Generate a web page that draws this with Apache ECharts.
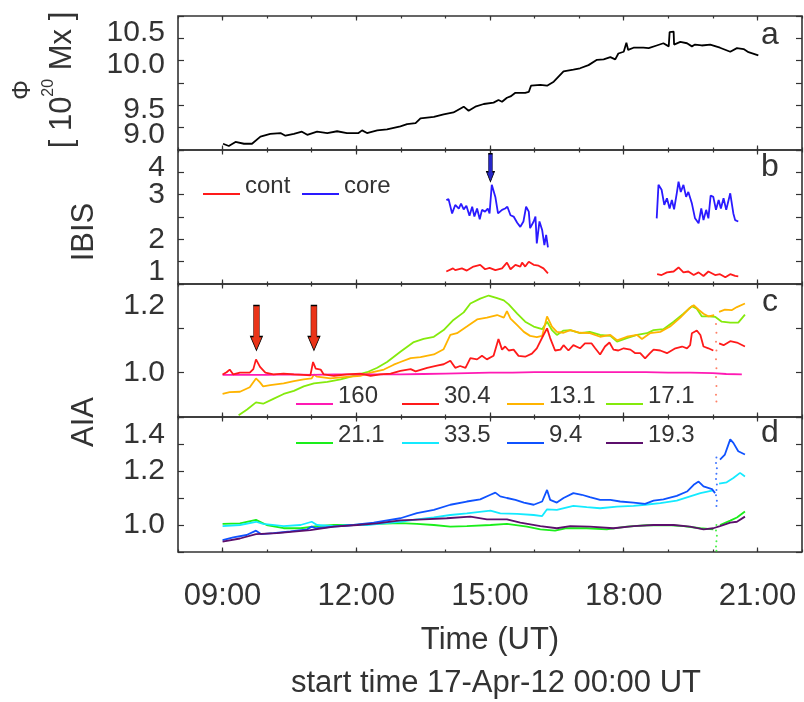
<!DOCTYPE html>
<html>
<head>
<meta charset="UTF-8">
<title>Flux, IBIS and AIA light curves 17-Apr-12</title>
<script src="https://cdn.jsdelivr.net/npm/echarts@6/dist/echarts.min.js"></script>
<style>
  html, body { margin: 0; padding: 0; background: #fff; }
  #main { width: 804px; height: 702px; }
</style>
</head>
<body>
<div id="main"></div>
<script>
// time is in hours UT, start time 17-Apr-12 00:00 UT
var hourTicks = [9, 12, 15, 18, 21];

// panel a: magnetic flux [10^20 Mx]
var phi = [[9.01,9.07],[9.14,9.045],[9.29,9.09],[9.48,9.07],[9.66,9.07],[9.85,9.15],[10.07,9.18],[10.30,9.19],
  [10.41,9.16],[10.60,9.18],[10.78,9.205],[10.90,9.17],[11.12,9.205],[11.35,9.19],[11.57,9.21],[11.79,9.19],
  [12.05,9.19],[12.13,9.22],[12.24,9.19],[12.47,9.22],[12.69,9.23],[12.99,9.265],[13.14,9.29],[13.33,9.30],
  [13.44,9.355],[13.74,9.37],[13.96,9.40],[14.18,9.42],[14.41,9.485],[14.52,9.44],[14.67,9.485],[14.86,9.515],
  [15.08,9.53],[15.19,9.56],[15.27,9.54],[15.38,9.585],[15.46,9.60],[15.57,9.64],[15.79,9.64],[15.87,9.65],
  [15.92,9.72],[16.13,9.73],[16.28,9.72],[16.43,9.765],[16.65,9.88],[16.87,9.90],[17.02,9.915],[17.21,9.95],
  [17.40,10.01],[17.55,10.015],[17.70,10.04],[17.81,10.015],[17.88,10.08],[18.00,10.10],[18.06,10.20],[18.10,10.12],
  [18.22,10.145],[18.44,10.145],[18.56,10.14],[18.74,10.17],[18.89,10.195],[19.01,10.16],[19.03,10.32],[19.12,10.325],
  [19.13,10.18],[19.27,10.21],[19.42,10.195],[19.53,10.16],[19.60,10.18],[19.75,10.17],[19.94,10.18],[20.16,10.145],
  [20.39,10.10],[20.54,10.14],[20.69,10.13],[20.80,10.095],[21.02,10.06]];

// panel b: IBIS
var core = [[14.02,2.88],[14.07,2.90],[14.15,2.58],[14.22,2.77],[14.30,2.69],[14.35,2.80],[14.41,2.67],[14.47,2.75],
  [14.54,2.53],[14.60,2.73],[14.65,2.51],[14.71,2.69],[14.77,2.45],[14.82,2.66],[14.89,2.62],[14.95,2.69],[14.99,2.58],
  [15.04,3.22],[15.12,2.95],[15.18,2.58],[15.27,2.66],[15.34,2.69],[15.39,2.73],[15.46,2.54],[15.53,2.51],[15.61,2.37],
  [15.68,2.28],[15.75,2.40],[15.81,2.73],[15.87,2.62],[15.90,2.25],[15.98,2.40],[16.02,2.51],[16.05,1.91],[16.11,2.40],
  [16.17,2.21],[16.22,1.87],[16.26,2.10],[16.30,1.82],[17.5,null],
  [18.74,2.47],[18.78,3.22],[18.85,3.11],[18.91,2.77],[18.97,2.92],[19.03,2.69],[19.08,2.88],[19.13,2.67],[19.19,3.03],
  [19.23,3.29],[19.28,3.06],[19.34,3.22],[19.40,2.95],[19.45,3.06],[19.53,2.80],[19.60,2.47],[19.68,2.36],[19.74,2.69],
  [19.79,2.43],[19.85,2.66],[19.90,2.47],[19.95,2.98],[20.01,2.95],[20.07,2.66],[20.13,2.88],[20.18,2.69],[20.24,2.92],
  [20.30,2.66],[20.39,3.03],[20.46,2.58],[20.50,2.43],[20.57,2.40]];
var cont = [[14.02,1.28],[14.17,1.35],[14.22,1.31],[14.37,1.35],[14.48,1.30],[14.63,1.39],[14.78,1.43],[14.89,1.33],
  [14.99,1.36],[15.12,1.31],[15.27,1.35],[15.38,1.48],[15.46,1.33],[15.57,1.43],[15.68,1.39],[15.72,1.48],[15.79,1.39],
  [15.87,1.50],[15.98,1.43],[16.09,1.41],[16.20,1.35],[16.30,1.24],[17.5,null],
  [18.75,1.22],[18.85,1.20],[18.97,1.26],[19.12,1.28],[19.23,1.37],[19.34,1.26],[19.45,1.28],[19.57,1.20],[19.68,1.26],
  [19.79,1.18],[19.90,1.28],[20.05,1.20],[20.16,1.22],[20.28,1.15],[20.39,1.22],[20.50,1.18],[20.57,1.17]];

// panel c: AIA 160, 30.4, 13.1, 17.1 nm
var aia160 = [[9.0,0.995],[9.5,0.995],[10.0,0.995],[10.5,0.996],[11.0,0.995],[11.5,0.996],[12.0,0.996],[12.5,0.996],
  [13.0,0.996],[13.5,0.997],[14.0,0.998],[14.5,0.999],[15.0,1.0],[15.5,1.0],[16.0,1.001],[16.5,1.001],[17.0,1.001],
  [17.5,1.001],[18.0,1.001],[18.5,1.001],[19.0,1.0],[19.5,1.0],[20.0,0.999],[20.3,0.997],[20.65,0.996]];
var aia304 = [[9.0,0.996],[9.09,1.001],[9.16,1.007],[9.24,0.996],[9.39,1.0],[9.61,1.0],[9.69,1.008],[9.75,1.03],
  [9.84,1.013],[9.96,1.0],[10.14,0.996],[10.37,0.998],[10.60,0.996],[10.82,0.995],[10.97,0.994],[11.03,1.024],
  [11.09,1.009],[11.20,1.007],[11.27,0.996],[11.50,0.993],[11.79,0.996],[12.09,0.998],[12.32,0.993],[12.54,0.996],
  [12.77,0.998],[12.99,1.004],[13.22,1.008],[13.33,1.003],[13.59,1.011],[13.81,1.016],[13.96,1.019],[14.11,1.027],
  [14.22,1.011],[14.33,1.015],[14.45,1.011],[14.56,1.033],[14.71,1.030],[14.82,1.038],[14.93,1.030],[15.08,1.038],
  [15.19,1.076],[15.27,1.052],[15.34,1.059],[15.42,1.050],[15.53,1.052],[15.64,1.038],[15.79,1.036],[15.94,1.043],
  [16.05,1.055],[16.20,1.085],[16.28,1.100],[16.35,1.078],[16.46,1.050],[16.58,1.052],[16.65,1.062],[16.76,1.050],
  [16.87,1.062],[17.02,1.055],[17.13,1.066],[17.28,1.066],[17.36,1.055],[17.47,1.041],[17.58,1.059],[17.68,1.068],
  [17.77,1.052],[17.88,1.050],[18.00,1.055],[18.15,1.052],[18.26,1.044],[18.37,1.044],[18.48,1.032],[18.59,1.044],
  [18.67,1.052],[18.82,1.050],[18.97,1.044],[19.16,1.055],[19.31,1.059],[19.42,1.055],[19.49,1.062],[19.53,1.089],
  [19.64,1.095],[19.72,1.085],[19.79,1.059],[19.90,1.055],[20.01,1.050],[20.07,null],
  [20.14,1.066],[20.24,1.062],[20.39,1.071],[20.54,1.068],[20.72,1.059]];
var aia131 = [[9.0,0.952],[9.16,0.956],[9.39,0.957],[9.61,0.967],[9.75,0.987],[9.84,0.978],[9.91,0.969],[10.07,0.972],
  [10.37,0.976],[10.60,0.981],[10.82,0.985],[11.00,0.987],[11.05,0.996],[11.12,0.991],[11.42,0.987],[11.72,0.990],
  [12.09,0.993],[12.32,1.0],[12.62,1.007],[12.84,1.018],[12.99,1.024],[13.22,1.033],[13.44,1.035],[13.74,1.041],
  [13.96,1.053],[14.11,1.085],[14.26,1.089],[14.48,1.104],[14.71,1.120],[14.93,1.124],[15.16,1.130],[15.31,1.124],
  [15.38,1.139],[15.46,1.122],[15.61,1.107],[15.76,1.092],[15.90,1.083],[16.05,1.080],[16.17,1.083],[16.28,1.127],
  [16.39,1.104],[16.50,1.092],[16.65,1.090],[16.80,1.096],[17.02,1.090],[17.24,1.089],[17.47,1.081],[17.70,1.085],
  [17.85,1.073],[18.07,1.081],[18.30,1.085],[18.41,1.076],[18.59,1.089],[18.82,1.092],[19.04,1.104],[19.27,1.124],
  [19.46,1.144],[19.57,1.152],[19.68,1.142],[19.79,1.133],[19.90,1.127],[20.03,1.130],[20.08,null],
  [20.14,1.137],[20.27,1.142],[20.42,1.141],[20.54,1.148],[20.72,1.156]];
var aia171 = [[9.36,0.904],[9.55,0.917],[9.75,0.933],[9.91,0.930],[10.14,0.941],[10.37,0.952],[10.60,0.959],
  [10.82,0.969],[11.05,0.976],[11.35,0.979],[11.65,0.985],[11.94,0.993],[12.24,1.001],[12.47,1.011],[12.69,1.024],
  [12.99,1.047],[13.29,1.069],[13.51,1.076],[13.74,1.081],[13.96,1.096],[14.18,1.119],[14.41,1.136],[14.56,1.156],
  [14.78,1.167],[14.97,1.174],[15.16,1.168],[15.31,1.163],[15.42,1.154],[15.61,1.133],[15.79,1.115],[15.98,1.104],
  [16.17,1.098],[16.28,1.115],[16.39,1.096],[16.50,1.085],[16.65,1.095],[16.80,1.096],[17.02,1.089],[17.24,1.092],
  [17.47,1.085],[17.70,1.083],[17.85,1.070],[18.07,1.078],[18.30,1.085],[18.52,1.089],[18.67,1.096],[18.89,1.098],
  [19.12,1.115],[19.34,1.133],[19.53,1.150],[19.64,1.144],[19.75,1.127],[19.90,1.127],[20.05,1.126],[20.20,1.115],
  [20.39,1.113],[20.57,1.113],[20.72,1.131]];

// panel d: AIA 21.1, 33.5, 9.4, 19.3 nm
var aia211 = [[9.0,1.004],[9.39,1.006],[9.75,1.019],[9.99,1.0],[10.37,0.988],[10.75,0.988],[11.12,0.996],[11.50,1.0],
  [11.94,1.0],[12.47,1.004],[12.99,1.007],[13.36,1.004],[13.74,1.0],[14.11,0.994],[14.48,0.996],[15.01,1.0],
  [15.38,1.004],[15.83,0.994],[16.13,0.984],[16.46,0.979],[16.72,0.988],[17.17,0.988],[17.62,0.984],[18.07,0.994],
  [18.52,0.999],[18.97,1.0],[19.34,0.996],[19.72,0.988],[20.01,0.984],[20.08,null],
  [20.16,1.0],[20.39,1.016],[20.54,1.028],[20.72,1.050]];
var aia335 = [[9.0,0.996],[9.39,1.0],[9.75,1.012],[9.91,1.004],[10.37,0.996],[10.75,1.0],[11.00,1.012],[11.12,1.0],
  [11.50,0.996],[11.87,1.0],[12.24,1.0],[12.62,1.006],[12.99,1.012],[13.36,1.021],[13.74,1.028],[14.11,1.037],
  [14.48,1.043],[15.01,1.053],[15.23,1.043],[15.61,1.041],[15.98,1.037],[16.17,1.033],[16.28,1.058],[16.50,1.056],
  [16.87,1.071],[17.17,1.066],[17.47,1.062],[17.85,1.068],[18.22,1.071],[18.48,1.075],[18.82,1.081],[19.19,1.090],
  [19.49,1.106],[19.72,1.118],[20.01,1.128],[20.08,null],
  [20.14,1.153],[20.31,1.158],[20.46,1.174],[20.61,1.193],[20.72,1.180]];
var aia94 = [[9.0,0.944],[9.24,0.954],[9.54,0.963],[9.75,0.979],[9.87,0.966],[10.14,0.970],[10.52,0.976],[10.90,0.984],
  [11.00,0.994],[11.09,0.988],[11.50,0.994],[11.94,1.0],[12.39,1.009],[12.99,1.025],[13.36,1.044],[13.74,1.056],
  [14.11,1.075],[14.48,1.087],[14.78,1.095],[15.01,1.112],[15.12,1.120],[15.23,1.106],[15.38,1.100],[15.57,1.093],
  [15.76,1.083],[15.98,1.075],[16.17,1.087],[16.28,1.130],[16.35,1.093],[16.50,1.083],[16.65,1.100],[16.87,1.118],
  [17.06,1.112],[17.24,1.103],[17.47,1.093],[17.70,1.093],[17.92,1.087],[18.22,1.083],[18.48,1.078],[18.67,1.090],
  [18.89,1.095],[19.19,1.108],[19.42,1.124],[19.57,1.149],[19.68,1.161],[19.79,1.143],[19.98,1.133],[20.05,1.118],
  [20.08,null],[20.16,1.242],[20.27,1.261],[20.39,1.317],[20.46,1.304],[20.57,1.273],[20.72,1.261]];
var aia193 = [[9.0,0.938],[9.39,0.950],[9.75,0.966],[10.22,0.970],[10.97,0.981],[11.50,0.994],[12.02,1.0],[12.47,1.006],
  [12.99,1.017],[13.51,1.021],[14.03,1.025],[14.56,1.031],[14.93,1.021],[15.38,1.021],[15.68,1.009],[16.13,0.996],
  [16.50,0.988],[16.80,0.996],[17.24,0.994],[17.77,0.988],[18.22,0.996],[18.67,1.0],[19.12,1.0],[19.49,0.994],
  [19.79,0.984],[20.01,0.988],[20.16,0.996],[20.39,1.009],[20.54,1.012],[20.72,1.031]];

// scattered samples in the data gap near 20:05 UT
var gapC = [[20.07,1.11],[20.08,1.09],[20.07,1.07],[20.08,1.05],[20.07,1.03],[20.08,1.01],[20.07,0.99],[20.08,0.97],[20.07,0.95],[20.08,0.935]];
var gapD94 = [[20.08,1.25],[20.07,1.23],[20.09,1.21],[20.08,1.19],[20.07,1.17],[20.09,1.15],[20.08,1.13],[20.07,1.11],[20.09,1.09],[20.08,1.07]];
var gapD211 = [[20.08,1.0],[20.07,0.98],[20.09,0.96],[20.08,0.94],[20.07,0.92],[20.08,0.905]];

// events marked with arrows [time, value at arrow tip]
var aiaEvents = [[9.76, 1.05], [11.05, 1.05]];
var ibisEvent = [[15.01, 3.29]];

var FONT = 'Liberation Sans';
var INK = '#333';
var chart = echarts.init(document.getElementById('main'));

var panels = [
  {top: 16, height: 134, min: 9.0, max: 10.5, interval: 0.25, labels: [[9.17,'9.0'],[9.45,'9.5'],[9.95,'10.0'],[10.31,'10.5']]},
  {top: 150, height: 134, min: 1, max: 4, interval: 0.5, labels: [[1.27,'1'],[2,'2'],[3,'3'],[3.6,'4']]},
  {top: 284, height: 133, min: 0.9, max: 1.2, interval: 0.1, labels: [[1.0,'1.0'],[1.152,'1.2']]},
  {top: 417, height: 135, min: 0.9, max: 1.4, interval: 0.1, labels: [[1.0,'1.0'],[1.2,'1.2'],[1.335,'1.4']]}
];

var grids = [], xAxes = [], yAxes = [];
function tickStyle(len) {
  return {inside: true, length: len, lineStyle: {color: INK, width: 1.2}};
}
function labelAxis(i, p, labels, ticks) {
  return {gridIndex: i, type: 'value', position: 'left', min: p.min, max: p.max, interval: p.interval,
    axisLine: {show: false}, axisTick: ticks ? tickStyle(6) : {show: false}, splitLine: {show: false},
    axisLabel: {customValues: labels.map(function (l) { return l[0]; }), margin: 13, fontSize: 30,
      fontFamily: FONT, color: INK,
      formatter: function (v) {
        for (var k = 0; k < labels.length; k++) {
          if (Math.abs(labels[k][0] - v) < 1e-6) return labels[k][1];
        }
        return '';
      }}};
}
panels.forEach(function (p, i) {
  grids.push({left: 178, width: 624, top: p.top, height: p.height, show: true,
    borderColor: INK, borderWidth: 1.6, backgroundColor: 'transparent'});
  ['bottom', 'top'].forEach(function (pos) {
    // hourly minor ticks
    xAxes.push({gridIndex: i, type: 'value', position: pos, min: 8, max: 22, interval: 1,
      axisLine: {show: false}, axisTick: tickStyle(2.5), axisLabel: {show: false}, splitLine: {show: false}});
    // 3-hourly major ticks
    var lab = (pos === 'bottom' && i === 3) ? {
      customValues: hourTicks, margin: 29, fontSize: 31, fontFamily: FONT, color: INK,
      formatter: function (v) { return (v < 10 ? '0' : '') + v + ':00'; }
    } : {show: false};
    var tk = tickStyle(4.5);
    tk.customValues = hourTicks;
    xAxes.push({gridIndex: i, type: 'value', position: pos, min: 8, max: 22, interval: 1,
      axisLine: {show: false}, axisTick: tk, axisLabel: lab, splitLine: {show: false}});
  });
  // closely spaced labels are split over two left axes so none get hidden
  yAxes.push(labelAxis(i, p, p.labels.filter(function (l, k) { return k % 2 === 0; }), true));
  yAxes.push(labelAxis(i, p, p.labels.filter(function (l, k) { return k % 2 === 1; }), false));
  yAxes.push({gridIndex: i, type: 'value', position: 'right', min: p.min, max: p.max, interval: p.interval,
    axisLine: {show: false}, axisTick: tickStyle(6), axisLabel: {show: false}, splitLine: {show: false}});
});

function line(name, panel, data, color, extra) {
  var s = {name: name, type: 'line', xAxisIndex: panel * 4, yAxisIndex: panel * 3, data: data,
    showSymbol: false, symbol: 'none', connectNulls: false, animation: false, silent: true,
    color: color, lineStyle: {color: color, width: 1.8}, itemStyle: {color: color}};
  if (extra) s.markPoint = extra;
  return s;
}
function dots(panel, data, color) {
  return {type: 'scatter', xAxisIndex: panel * 4, yAxisIndex: panel * 3, data: data, symbolSize: 2,
    itemStyle: {color: color}, animation: false, silent: true};
}
function arrows(coords, path, size, fill) {
  return {symbol: path, symbolSize: size, symbolOffset: [0, '-50%'], silent: true, animation: false,
    itemStyle: {color: fill, borderColor: '#000', borderWidth: 0.8}, label: {show: false},
    data: coords.map(function (c) { return {coord: c}; })};
}

var redArrow = 'path://M3,0L9,0L9,31L12,31L6,45L0,31L3,31Z';
var blueArrow = 'path://M2,0L6,0L6,18L8,18L4,28L0,18L2,18Z';

var colors = {cont: '#ff1a1a', core: '#2a1aff', '160': '#ff1ab4', '30.4': '#ff1a1a', '13.1': '#ffb400',
  '17.1': '#84ea0c', '21.1': '#1aee1a', '33.5': '#14eaff', '9.4': '#0f52ff', '19.3': '#5c0f6c'};

var series = [
  line('phi', 0, phi, '#000'),
  line('cont', 1, cont, colors.cont),
  line('core', 1, core, colors.core, arrows(ibisEvent, blueArrow, [8, 28], '#2626c8')),
  line('17.1', 2, aia171, colors['17.1']),
  line('13.1', 2, aia131, colors['13.1']),
  line('160', 2, aia160, colors['160']),
  line('30.4', 2, aia304, colors['30.4'], arrows(aiaEvents, redArrow, [12, 45], '#ea3418')),
  dots(2, gapC, '#ff6040'),
  line('21.1', 3, aia211, colors['21.1']),
  line('33.5', 3, aia335, colors['33.5']),
  line('9.4', 3, aia94, colors['9.4']),
  line('19.3', 3, aia193, colors['19.3']),
  dots(3, gapD94, colors['9.4']),
  dots(3, gapD211, colors['21.1'])
];

// legend entries: [name, left, icon centre y]
var legendSpots = [['cont', 203, 194], ['core', 302, 194],
  ['160', 296, 404], ['30.4', 402, 404], ['13.1', 507, 404], ['17.1', 606, 404],
  ['21.1', 296, 443], ['33.5', 402, 443], ['9.4', 507, 443], ['19.3', 606, 443]];
var legends = legendSpots.map(function (l) {
  return {data: [l[0]], left: l[1], top: l[2] - 19.5, padding: 0, icon: 'rect', itemWidth: 37, itemHeight: 2,
    selectedMode: false,
    formatter: function (name) { return '{t|' + name + '}'; },
    textStyle: {fontSize: 24, fontFamily: FONT, color: INK,
      rich: {t: {fontSize: 24, fontFamily: FONT, color: INK, lineHeight: 24, padding: [0, 0, 15, 0]}}}};
});

function txt(x, y, text, size, rot) {
  return {type: 'text', x: x, y: y, rotation: rot || 0, silent: true,
    style: {text: text, fontSize: size, fontFamily: FONT, fill: INK, align: 'center', verticalAlign: 'middle'}};
}
var graphics = [
  txt(770, 35, 'a', 32), txt(770, 167, 'b', 32), txt(770, 302, 'c', 32), txt(770, 433, 'd', 32),
  txt(84, 232, 'IBIS', 31, Math.PI / 2), txt(84, 422, 'AIA', 31, Math.PI / 2),
  txt(23, 90, 'Φ', 25, Math.PI / 2),
  {type: 'text', x: 62, y: 80, rotation: Math.PI / 2, silent: true,
    style: {text: '[ 10{sup|20} Mx ]', fontSize: 31, fontFamily: FONT, fill: INK, align: 'center', verticalAlign: 'middle',
      rich: {sup: {fontSize: 16, fontFamily: FONT, fill: INK, padding: [0, 0, 26, 0]}}}},
  txt(490, 640, 'Time (UT)', 31),
  txt(496, 683, 'start time 17-Apr-12 00:00 UT', 31)
];

chart.setOption({
  animation: false,
  backgroundColor: '#fff',
  grid: grids,
  xAxis: xAxes,
  yAxis: yAxes,
  legend: legends,
  series: series,
  graphic: graphics
});
</script>
</body>
</html>
